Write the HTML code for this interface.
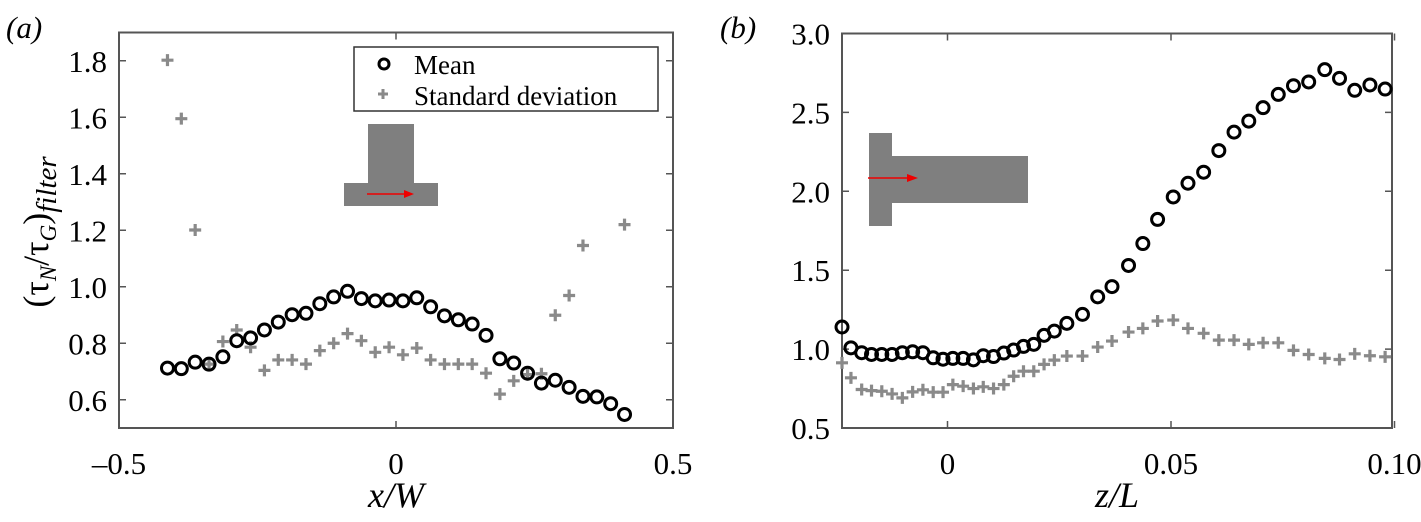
<!DOCTYPE html>
<html><head><meta charset="utf-8"><style>
body{margin:0;background:#fff}
#fig, #fig text, #fig tspan{font-family:"Liberation Serif","DejaVu Serif",serif !important;fill:#000}
</style></head><body>
<svg id="fig" width="1421" height="517" viewBox="0 0 1421 517" xmlns="http://www.w3.org/2000/svg" font-family="Liberation Serif, serif" style="font-family:'Liberation Serif',serif">
<text x="6" y="38" font-size="31" font-style="italic">(a)</text>
<text x="720" y="38" font-size="31" font-style="italic">(b)</text>
<g id="pa"></g>
<g id="pb"></g>
</svg>
<script>
// ---- Panel (a) data ----
const aX = [-0.4125,-0.3875,-0.3625,-0.3375,-0.3125,-0.2875,-0.2625,-0.2375,-0.2125,-0.1875,-0.1625,-0.1375,-0.1125,-0.0875,-0.0625,-0.0375,-0.0125,0.0125,0.0375,0.0625,0.0875,0.1125,0.1375,0.1625,0.1875,0.2125,0.2375,0.2625,0.2875,0.3125,0.3375,0.3625,0.3875,0.4125];
const aMean = [0.712,0.710,0.733,0.726,0.752,0.809,0.819,0.847,0.875,0.901,0.906,0.940,0.964,0.984,0.958,0.950,0.953,0.950,0.961,0.929,0.897,0.883,0.868,0.828,0.745,0.730,0.694,0.659,0.669,0.644,0.612,0.610,0.586,0.548];
const aStd = [1.802,1.595,1.201,0.726,0.806,0.847,0.786,0.704,0.741,0.741,0.726,0.774,0.800,0.834,0.809,0.768,0.786,0.759,0.783,0.741,0.726,0.726,0.726,0.694,0.620,0.667,0.689,0.692,0.899,0.969,1.146,null,null,1.220];
const aXTicks = [-0.5,0,0.5];
const aXTickLabels = ["\u20130.5","0","0.5"];
const aYTicks = [0.6,0.8,1.0,1.2,1.4,1.6,1.8];
const aYTickLabels = ["0.6","0.8","1.0","1.2","1.4","1.6","1.8"];
// ---- Panel (b) data ----
const bZ = [-0.0236,-0.0216,-0.0192,-0.0170,-0.0147,-0.0124,-0.0101,-0.0078,-0.0055,-0.0032,-0.0010,0.0012,0.0035,0.0058,0.0080,0.0103,0.0126,0.0148,0.0170,0.0193,0.0216,0.0239,0.0267,0.0302,0.0336,0.0368,0.0405,0.0437,0.0470,0.0505,0.0538,0.0573,0.0607,0.0641,0.0674,0.0706,0.0740,0.0774,0.0808,0.0844,0.0877,0.0911,0.0945,0.0979];
const bMean = [1.140,1.008,0.977,0.966,0.966,0.966,0.977,0.983,0.977,0.945,0.936,0.941,0.941,0.932,0.958,0.953,0.975,0.994,1.017,1.030,1.087,1.114,1.163,1.220,1.331,1.396,1.530,1.669,1.822,1.964,2.051,2.121,2.258,2.375,2.445,2.530,2.614,2.669,2.693,2.771,2.716,2.640,2.674,2.648];
const bStd = [0.913,0.818,0.744,0.737,0.733,0.716,0.691,0.729,0.742,0.727,0.727,0.775,0.765,0.750,0.761,0.750,0.775,0.828,0.860,0.860,0.903,0.930,0.956,0.956,1.013,1.051,1.108,1.131,1.178,1.184,1.131,1.100,1.057,1.057,1.030,1.040,1.040,0.992,0.966,0.941,0.934,0.970,0.958,0.951];
const bXTicks = [0,0.05,0.10];
const bXTickLabels = ["0","0.05","0.10"];
const bYTicks = [0.5,1.0,1.5,2.0,2.5,3.0];
const bYTickLabels = ["0.5","1.0","1.5","2.0","2.5","3.0"];

const NS="http://www.w3.org/2000/svg";
const SERIF="Liberation Serif, serif";
function mk(parent,tag,attrs,txt){const e=document.createElementNS(NS,tag);for(const k in attrs)e.setAttribute(k,attrs[k]);if(tag==='text')e.setAttribute('font-family',SERIF);if(txt!==undefined)e.textContent=txt;parent.appendChild(e);return e;}
function lin(d0,d1,r0,r1){return v=>r0+(v-d0)*(r1-r0)/(d1-d0);}

function circle(g,x,y,name){const c=mk(g,'circle',{cx:x,cy:y,r:6,fill:'none',stroke:'#000','stroke-width':3});

}
function plus(g,x,y,name){const p=mk(g,'path',{d:`M${x-6},${y}H${x+6}M${x},${y-6}V${y+6}`,stroke:'#8a8a8a','stroke-width':3.2});

}

function axes(g,L,R,T,B,xs,ys,xt,xtl,yt,ytl){
  const box=mk(g,'rect',{x:L,y:T,width:R-L,height:B-T,fill:'none',stroke:'#555','stroke-width':2});
  
  
  xt.forEach((v,i)=>{const x=xs(v);
    mk(g,'path',{d:`M${x},${B}v-7M${x},${T}v7`,stroke:'#555','stroke-width':1.5});
    const t=mk(g,'text',{x:x,y:B+46,'font-size':31,'text-anchor':'middle'},xtl[i]);
    
    });
  yt.forEach((v,i)=>{const y=ys(v);
    mk(g,'path',{d:`M${L},${y}h7M${R},${y}h-7`,stroke:'#555','stroke-width':1.5});
    const t=mk(g,'text',{x:L-12,y:y+11,'font-size':31,'text-anchor':'end'},ytl[i]);
    
    });
}

// Panel a
(function(){
  const g=document.getElementById('pa');
  const L=119,R=673,T=32.5,B=428;
  const xs=lin(-0.5,0.5,L,R), ys=lin(0.5,1.9,B,T);
  axes(g,L,R,T,B,xs,ys,aXTicks,aXTickLabels,aYTicks,aYTickLabels);
  const ins=mk(g,'g',{});
  
  
  mk(ins,'path',{d:'M368,124H414V183H438V206H344V183H368Z',fill:'#7f7f7f'});
  mk(ins,'path',{d:'M367,194H405',stroke:'#e00','stroke-width':1.5});
  mk(ins,'path',{d:'M404,190L414,194L404,198Z',fill:'#e00'});
  aX.forEach((v,i)=>{ if(aStd[i]!=null) plus(g,xs(v),ys(aStd[i]),'std-point'); });
  aX.forEach((v,i)=>{ circle(g,xs(v),ys(aMean[i]),'mean-point'); });
  const lg=mk(g,'g',{});
  
  
  mk(lg,'rect',{x:354,y:47,width:304,height:64,fill:'#fff',stroke:'#333','stroke-width':1.5});
  mk(lg,'circle',{cx:384,cy:64,r:5,fill:'none',stroke:'#000','stroke-width':3});
  mk(lg,'path',{d:'M378,94h10M383,89v10',stroke:'#8a8a8a','stroke-width':3});
  const t1=mk(lg,'text',{x:414,y:74,'font-size':27},'Mean');
  
  
  const t2=mk(lg,'text',{x:414,y:105,'font-size':27},'Standard deviation');
  
  
  const xl=mk(g,'text',{x:396,y:507,'font-size':36,'font-style':'italic','text-anchor':'middle'},'x/W');
  
  
  const yl=mk(g,'text',{transform:'translate(48,232) rotate(-90)','font-size':36,'text-anchor':'middle'});
  yl.innerHTML='(τ<tspan font-size="23" dy="8" font-style="italic">N</tspan><tspan dy="-8">/τ</tspan><tspan font-size="23" dy="8" font-style="italic">G</tspan><tspan dy="-8">)</tspan><tspan font-size="29" dy="8" font-style="italic">filter</tspan>';
  
  
})();

// Panel b
(function(){
  const g=document.getElementById('pb');
  const L=842,R=1392,T=33.5,B=428;
  const xs=lin(0,0.05,947.5,1171), ys=lin(0.5,3.0,B,T);
  axes(g,L,R,T,B,xs,ys,bXTicks,bXTickLabels,bYTicks,bYTickLabels);
  const ins=mk(g,'g',{});
  
  
  mk(ins,'path',{d:'M869,133H892V156H1028V203H892V226H869Z',fill:'#7f7f7f'});
  mk(ins,'path',{d:'M868,178H908',stroke:'#e00','stroke-width':1.5});
  mk(ins,'path',{d:'M907,174L918,178L907,182Z',fill:'#e00'});
  bZ.forEach((v,i)=>{ plus(g,xs(v),ys(bStd[i]),'std-point'); });
  bZ.forEach((v,i)=>{ circle(g,xs(v),ys(bMean[i]),'mean-point'); });
  const xl=mk(g,'text',{x:1117,y:507,'font-size':36,'font-style':'italic','text-anchor':'middle'},'z/L');
  
  
})();
</script>
</body></html>
